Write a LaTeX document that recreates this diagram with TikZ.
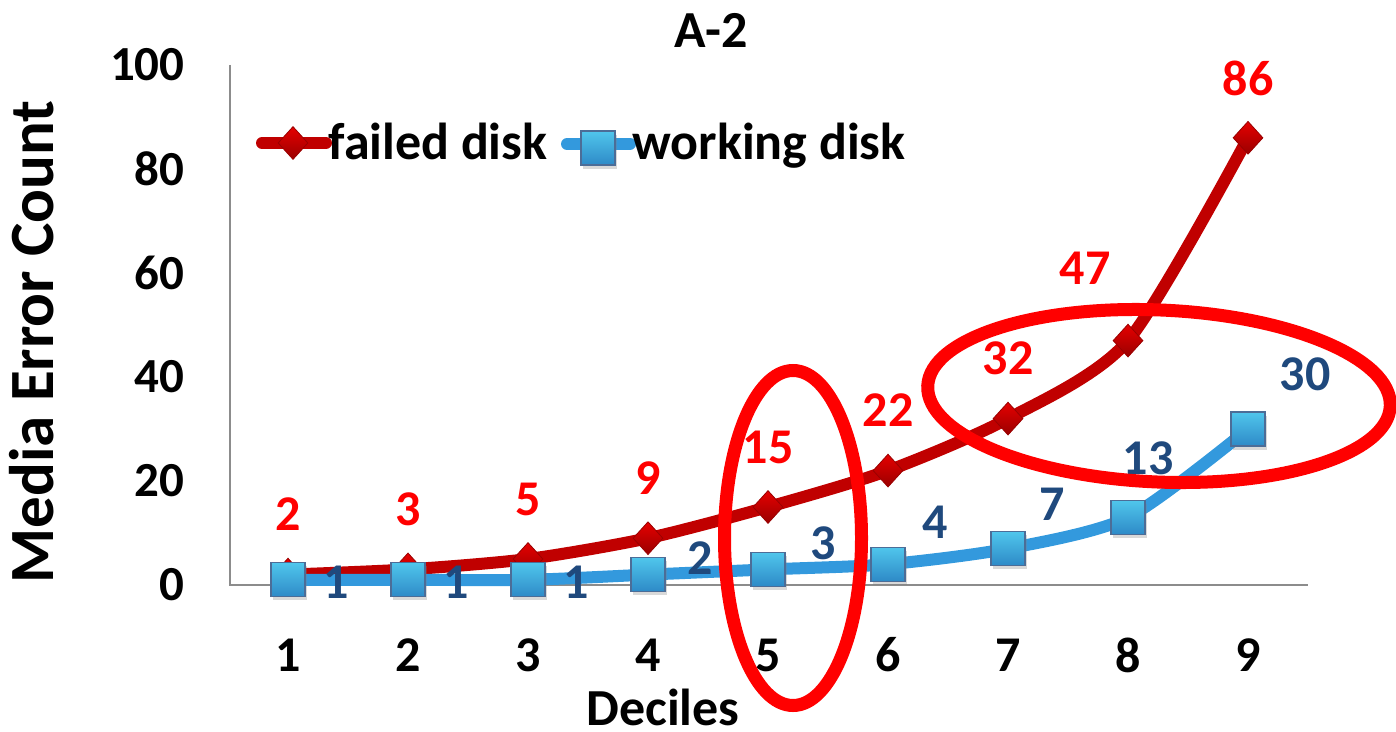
\documentclass[tikz,border=0pt]{standalone}
\usepackage{fontspec}
\setmainfont{Carlito}
\usetikzlibrary{shapes.geometric}
\usetikzlibrary{shadows}
\definecolor{failred}{HTML}{C00000}
\definecolor{workblue}{HTML}{3399DD}
\definecolor{labelblue}{HTML}{1F497D}
\definecolor{axisgray}{HTML}{8C8C8C}
\tikzset{
    mydiamond/.style = {diamond, inner sep=0pt, minimum width=15pt, minimum height=16.5pt, draw=failred!80!black, line width=0.4pt, top color=red!90!black, bottom color=failred!80!black},
    mysquare/.style = {rectangle, inner sep=0pt, minimum size=17pt, draw=labelblue!80, line width=0.6pt, top color=workblue!70!cyan!80!white, bottom color=workblue!90!black, drop shadow={opacity=0.3, shadow xshift=0.8pt, shadow yshift=-1.8pt}},
    edger/.style = {line width=6pt, failred, line cap=round},
    edgeb/.style = {line width=6pt, workblue, line cap=round},
    labelr/.style = {text=red, font=\fontsize{25}{30}\selectfont\bfseries},
    labelb/.style = {text=labelblue, font=\fontsize{25}{30}\selectfont\bfseries},
    ticklabel/.style = {font=\fontsize{25}{30}\selectfont\bfseries, inner sep=0pt},
    legendtext/.style = {font=\fontsize{26}{30}\selectfont\bfseries, inner sep=0pt},
    ring/.style = {draw=red, line width=6.5pt},
    axisline/.style = {draw=axisgray, line width=1pt}
}

\begin{document}
\begin{tikzpicture}[x=0.5pt, y=-0.5pt]
  \useasboundingbox (0,0) rectangle (1396,732);
  % axes
  \coordinate (ytop) at (230,65);
  \coordinate (o) at (230,585);
  \coordinate (xend) at (1308,585);
  \draw[axisline] (ytop) -- (o) -- (xend);
  \foreach \v in {0,20,...,100}
    \node[ticklabel, anchor=east, font=\fontsize{24.5}{28}\selectfont\bfseries] (y\v) at (185,585-5.2*\v) {\v};
  \foreach \i in {1,...,9}
    \node[ticklabel] (x\i) at (168+120*\i,655) {\i};
  \node[ticklabel, font=\fontsize{26}{30}\selectfont\bfseries] (title) at (711,30) {A-2};
  \node[ticklabel, font=\fontsize{26}{30}\selectfont\bfseries] (xtitle) at (663,707) {Deciles};
  \node[ticklabel, rotate=90, font=\fontsize{31.5}{34}\selectfont\bfseries] (ytitle) at (32,342) {Media Error Count};
  % data points
  \begin{scope}[shift={(168,585)}, x=60pt, y=2.6pt]
    \foreach \v [count=\i] in {2,3,5,9,15,22,32,47,86}
      \coordinate (f\i) at (\i,\v);
    \foreach \v [count=\i] in {1,1,1,2,3,4,7,13,30}
      \coordinate (w\i) at (\i,\v);
  \end{scope}
  % failed disk
  \draw[edger] plot[smooth, tension=0.45] coordinates {(f1) (f2) (f3) (f4) (f5) (f6) (f7) (f8) (f9)};
  \foreach \i in {1,...,9}
    \node[mydiamond] (fd\i) at (f\i) {};
  \foreach \v/\dx/\dy [count=\i] in {2/0/30,3/0/30,5/0/30,9/0/30,15/0/30,22/0/30,32/0/30,47/-21.5/36,86/0/29.5}
    \node[labelr] (fl\i) at ([xshift=\dx pt, yshift=\dy pt]f\i) {\v};
  % working disk
  \draw[edgeb] plot[smooth, tension=0.45] coordinates {(w1) (w2) (w3) (w4) (w5) (w6) (w7) (w8) (w9)};
  \foreach \i in {1,...,9}
    \node[mysquare] (ws\i) at (w\i) {};
  \foreach \v/\x/\y [count=\i] in {1/336/582,1/456/582,1/576/582,2/700/558,3/823/543,4/935/522,7/1052/504,13/1148/458,30/1305/374}
    \node[labelb] (wl\i) at (\x,\y) {\v};
  % legend
  \coordinate (lfa) at (262,143);
  \coordinate (lfb) at (326,143);
  \draw[edger] (lfa) -- (lfb);
  \node[mydiamond] (lfd) at (293,143) {};
  \node[legendtext, anchor=base west] (lft) at (328,160) {failed disk};
  \coordinate (lwa) at (567,144);
  \coordinate (lwb) at (630,144);
  \draw[edgeb] (lwa) -- (lwb);
  \node[mysquare] (lws) at (598,148) {};
  \node[legendtext, anchor=base west] (lwt) at (632,160) {working disk};
  % rings
  \draw[ring] (793,538) ellipse [x radius=68.5, y radius=167.5];
  \draw[ring, rotate around={-2.5:(1159,396)}] (1159,396) ellipse [x radius=231.5, y radius=86];
\end{tikzpicture}
\end{document}
